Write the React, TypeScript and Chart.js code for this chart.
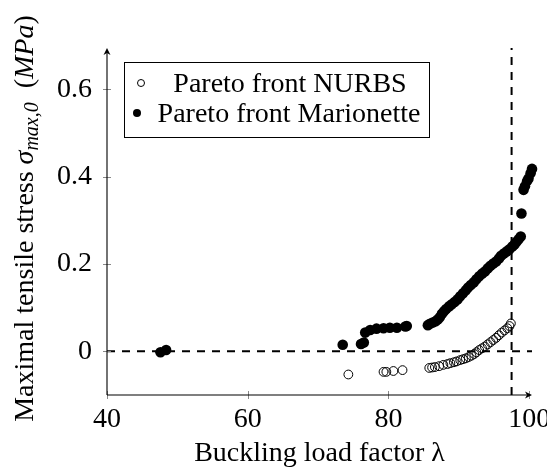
import React, { useEffect, useRef } from 'react';
import { Chart, registerables } from 'chart.js';

Chart.register(...registerables);

// ---------- data ----------
const xTickValues = [40, 60, 80, 100];
const yTickValues = [0, 0.2, 0.4, 0.6];
const xMin = 40;
const xMax = 100.4;
const yMin = -0.1;
const yMax = 0.695;
const thresholdLambda = 97.5;
const thresholdStress = 0;

const legendLabels = ['Pareto front NURBS', 'Pareto front Marionette'];
const xTitle = 'Buckling load factor λ';

const nurbsLambda = [
  74.3, 79.3, 79.7, 80.7, 82.0, 85.8, 86.2, 86.6, 87.2, 87.8, 88.4, 88.8, 89.3, 89.7,
  90.2, 90.6, 91.0, 91.4, 91.8, 92.2, 92.5, 92.9, 93.3, 93.7, 94.1, 94.5, 94.9, 95.3,
  95.7, 96.1, 96.5, 96.9, 97.2, 97.4,
];
const nurbsStress = [
  -0.053, -0.047, -0.047, -0.045, -0.043, -0.038, -0.037, -0.036, -0.034, -0.031, -0.029,
  -0.027, -0.025, -0.023, -0.02, -0.018, -0.016, -0.013, -0.01, -0.006, -0.002, 0.003,
  0.007, 0.011, 0.016, 0.021, 0.026, 0.031, 0.037, 0.043, 0.048, 0.053, 0.058, 0.064,
];

const marionetteLambda = [
  47.6, 48.4, 73.5, 76.1, 76.5, 76.7, 77.4, 78.3, 79.3, 80.2, 81.2, 82.4, 82.6,
  85.6, 85.9, 86.3, 86.7, 87.0, 87.3, 87.6, 87.9, 88.2, 88.6, 89.0, 89.4, 89.8, 90.2,
  90.6, 91.0, 91.3, 91.7, 92.1, 92.5, 92.9, 93.3, 93.7, 94.1, 94.5, 94.9, 95.3, 95.7,
  96.0, 96.4, 96.8, 97.2, 97.6, 97.9, 98.2, 98.5, 98.8, 98.9, 99.2, 99.4, 99.7, 99.9,
  100.2, 100.4, 100.5,
];
const marionetteStress = [
  -0.002, 0.003, 0.015, 0.017, 0.02, 0.043, 0.049, 0.052, 0.053, 0.054, 0.054, 0.057, 0.058,
  0.06, 0.063, 0.066, 0.069, 0.073, 0.078, 0.086, 0.092, 0.097, 0.103, 0.108, 0.113, 0.119,
  0.126, 0.133, 0.14, 0.146, 0.152, 0.158, 0.165, 0.172, 0.178, 0.183, 0.19, 0.196, 0.201,
  0.206, 0.213, 0.219, 0.224, 0.229, 0.234, 0.24, 0.245, 0.251, 0.257, 0.263, 0.316, 0.37,
  0.378, 0.39, 0.396, 0.408, 0.418, 0.424,
];

// ---------- styling ----------
const FONT = '"Liberation Serif", "Times New Roman", serif';
const FS = 28;

const toPoints = (xs: number[], ys: number[]) => xs.map((x, i) => ({ x, y: ys[i] }));

const decorPlugin = {
  id: 'decor',
  afterDraw(chart: any) {
    const { ctx, chartArea, scales } = chart;
    const xs = scales.x;
    const ys = scales.y;
    const left = chartArea.left;
    const bottom = chartArea.bottom;
    const right = xs.getPixelForValue(xMax);
    const top = ys.getPixelForValue(yMax);
    ctx.save();
    // tick marks
    ctx.strokeStyle = '#888';
    ctx.lineWidth = 1;
    xTickValues.forEach((v) => {
      const px = Math.round(xs.getPixelForValue(v)) + 0.5;
      ctx.beginPath();
      ctx.moveTo(px, bottom - 4);
      ctx.lineTo(px, bottom + 4);
      ctx.stroke();
    });
    yTickValues.forEach((v) => {
      const py = Math.round(ys.getPixelForValue(v)) + 0.5;
      ctx.beginPath();
      ctx.moveTo(left - 4, py);
      ctx.lineTo(left + 4, py);
      ctx.stroke();
    });
    // axis lines
    ctx.strokeStyle = '#000';
    ctx.fillStyle = '#000';
    ctx.lineWidth = 1.1;
    ctx.beginPath();
    ctx.moveTo(left, bottom);
    ctx.lineTo(right - 3, bottom);
    ctx.stroke();
    ctx.beginPath();
    ctx.moveTo(left, bottom);
    ctx.lineTo(left, top + 3);
    ctx.stroke();
    // arrow heads
    ctx.beginPath();
    ctx.moveTo(right, bottom);
    ctx.lineTo(right - 7, bottom - 3.5);
    ctx.lineTo(right - 5, bottom);
    ctx.lineTo(right - 7, bottom + 3.5);
    ctx.closePath();
    ctx.fill();
    ctx.beginPath();
    ctx.moveTo(left, top);
    ctx.lineTo(left - 3.5, top + 7);
    ctx.lineTo(left, top + 5);
    ctx.lineTo(left + 3.5, top + 7);
    ctx.closePath();
    ctx.fill();

    // legend
    const bx = 124, by = 62, bw = 305, bh = 75;
    ctx.fillStyle = '#fff';
    ctx.fillRect(bx, by, bw, bh);
    ctx.strokeStyle = '#000';
    ctx.lineWidth = 1;
    ctx.strokeRect(bx + 0.5, by + 0.5, bw, bh);
    ctx.font = `${FS}px ${FONT}`;
    ctx.fillStyle = '#000';
    ctx.textAlign = 'center';
    ctx.textBaseline = 'alphabetic';
    ctx.fillText(legendLabels[0], 290, 92);
    ctx.fillText(legendLabels[1], 289, 122);
    ctx.beginPath();
    ctx.arc(141, 83, 3.5, 0, Math.PI * 2);
    ctx.lineWidth = 1;
    ctx.stroke();
    ctx.beginPath();
    ctx.arc(137, 113, 4, 0, Math.PI * 2);
    ctx.fill();

    // x title
    ctx.textAlign = 'center';
    ctx.fillText(xTitle, (left + right) / 2, 461);

    // y title (rich text, rotated)
    const segs = [
      { t: 'Maximal tensile stress ', it: false, sub: false },
      { t: 'σ', it: true, sub: false },
      { t: 'max,0', it: true, sub: true },
      { t: '  (', it: false, sub: false },
      { t: 'MPa', it: true, sub: false },
      { t: ')', it: false, sub: false },
    ];
    const fontFor = (s: any) => `${s.it ? 'italic ' : ''}${s.sub ? Math.round(FS * 0.7) : FS}px ${FONT}`;
    let total = 0;
    segs.forEach((s) => {
      ctx.font = fontFor(s);
      total += ctx.measureText(s.t).width;
    });
    const cy = (top + bottom) / 2 - 3;
    ctx.translate(33, cy);
    ctx.rotate(-Math.PI / 2);
    ctx.textAlign = 'left';
    let cx = -total / 2;
    segs.forEach((s) => {
      ctx.font = fontFor(s);
      ctx.fillText(s.t, cx, s.sub ? 5 : 0);
      cx += ctx.measureText(s.t).width;
    });
    ctx.restore();
  },
};

export default function App() {
  const ref = useRef<HTMLCanvasElement | null>(null);
  useEffect(() => {
    if (!ref.current) return;
    const chart = new Chart(ref.current, {
      type: 'scatter',
      data: {
        datasets: [
          {
            label: legendLabels[0],
            data: toPoints(nurbsLambda, nurbsStress),
            pointRadius: 4.4,
            pointBackgroundColor: 'rgba(0,0,0,0)',
            pointBorderColor: '#000',
            pointBorderWidth: 1,
            clip: false as any,
          },
          {
            label: legendLabels[1],
            data: toPoints(marionetteLambda, marionetteStress),
            pointRadius: 5.3,
            pointBackgroundColor: '#000',
            pointBorderColor: '#000',
            pointBorderWidth: 0,
            clip: false as any,
          },
          {
            label: 'threshold-h',
            data: [
              { x: xMin, y: thresholdStress },
              { x: xMax, y: thresholdStress },
            ],
            showLine: true,
            borderColor: '#000',
            borderWidth: 2,
            borderDash: [8, 7],
            pointRadius: 0,
            clip: false as any,
          },
          {
            label: 'threshold-v',
            data: [
              { x: thresholdLambda, y: yMin },
              { x: thresholdLambda, y: yMax },
            ],
            showLine: true,
            borderColor: '#000',
            borderWidth: 2,
            borderDash: [8, 7],
            pointRadius: 0,
            clip: false as any,
          },
        ],
      },
      options: {
        animation: false,
        responsive: false,
        layout: { padding: { top: 48, right: 15, left: 0, bottom: 0 } },
        plugins: { legend: { display: false }, tooltip: { enabled: false } },
        scales: {
          x: {
            type: 'linear',
            min: xMin,
            max: xMax,
            grid: { display: false, drawTicks: false },
            border: { display: false },
            afterBuildTicks: (s: any) => {
              s.ticks = xTickValues.map((v) => ({ value: v }));
            },
            afterFit: (s: any) => {
              s.height = 78;
              s.paddingLeft = 0;
              s.paddingRight = 0;
            },
            ticks: {
              color: '#000',
              padding: 8,
              maxRotation: 0,
              autoSkip: false,
              font: { family: FONT, size: FS },
              callback: (v: any) => String(v),
            },
          },
          y: {
            type: 'linear',
            min: yMin,
            max: yMax,
            grid: { display: false, drawTicks: false },
            border: { display: false },
            afterBuildTicks: (s: any) => {
              s.ticks = yTickValues.map((v) => ({ value: v }));
            },
            afterFit: (s: any) => {
              s.width = 107;
              s.paddingTop = 0;
              s.paddingBottom = 0;
            },
            ticks: {
              color: '#000',
              padding: 15,
              autoSkip: false,
              font: { family: FONT, size: FS },
              callback: (v: any) => (v === 0 ? '0' : Number(v).toFixed(1)),
            },
          },
        },
      },
      plugins: [decorPlugin],
    });
    return () => chart.destroy();
  }, []);
  return (
    <div style={{ position: 'fixed', left: 0, top: 0, width: 547, height: 473, background: '#fff' }}>
      <canvas ref={ref} width={547} height={473} style={{ display: 'block' }} />
    </div>
  );
}
